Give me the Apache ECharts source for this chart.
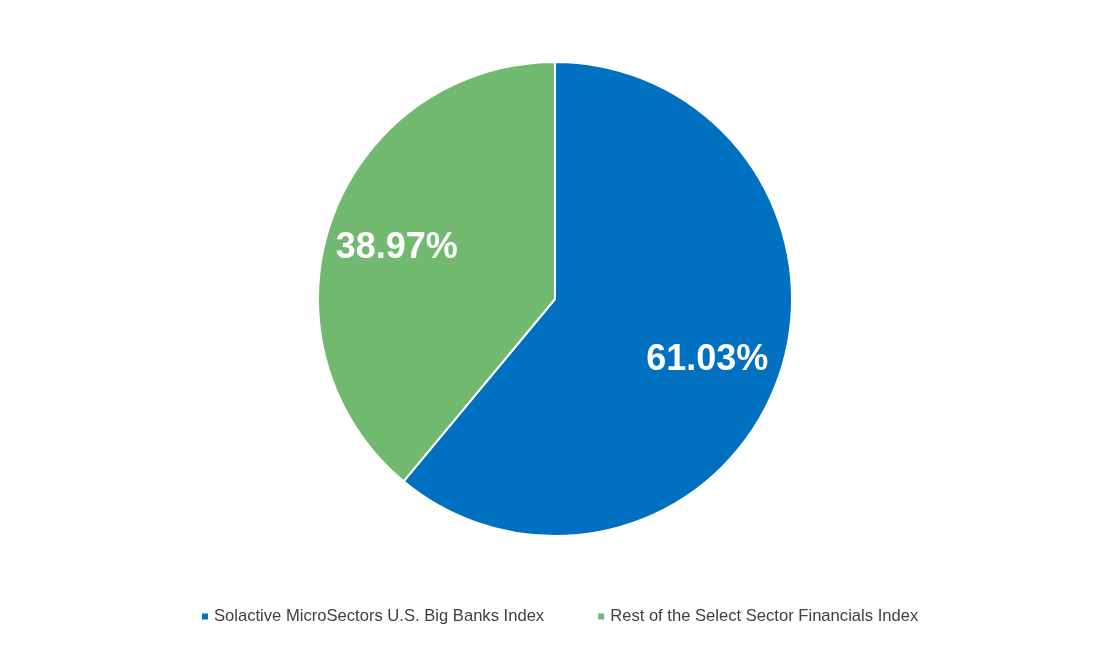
<html>
<head>
<meta charset="UTF-8">
<title>pie</title>
<script src="https://cdn.jsdelivr.net/npm/echarts@6/dist/echarts.min.js"></script>
</head>
<body style="margin:0;background:#fff">
<div id="chart" style="width:1110px;height:647px"></div>
<script>
var names = ['Solactive MicroSectors U.S. Big Banks Index', 'Rest of the Select Sector Financials Index'];
var values = [61.03, 38.97];
var colors = ['#0070c0', '#71b96f'];

var chart = echarts.init(document.getElementById('chart'));

var pieData = [];
var labelData = [];
for (var i = 0; i < names.length; i++) {
  pieData.push({name: names[i], value: values[i], itemStyle: {color: colors[i]}});
  labelData.push({name: names[i], value: values[i]});
}

var option = {
  animation: false,
  legend: {
    data: names,
    left: 195,
    top: 603,
    icon: 'rect',
    itemWidth: 8,
    itemHeight: 8,
    itemGap: 52,
    textStyle: {color: '#404040', fontSize: 16.6, fontFamily: 'Liberation Sans'}
  },
  series: [
    {
      type: 'pie',
      center: [555, 299],
      radius: [0, 237],
      startAngle: 90,
      clockwise: true,
      label: {show: false},
      labelLine: {show: false},
      itemStyle: {borderColor: '#fff', borderWidth: 2},
      emphasis: {disabled: true},
      data: pieData
    },
    {
      // invisible ring, only used to place the labels at ~2/3 radius
      type: 'pie',
      center: [555, 299],
      radius: [87, 237],
      startAngle: 90,
      clockwise: true,
      silent: true,
      legendHoverLink: false,
      itemStyle: {color: 'rgba(0,0,0,0)'},
      label: {
        show: true,
        position: 'inside',
        offset: [-3, 5],
        formatter: function (p) { return p.value.toFixed(2) + '%'; },
        color: '#fff',
        fontSize: 36,
        fontWeight: 'bold',
        fontFamily: 'Liberation Sans'
      },
      labelLine: {show: false},
      data: labelData
    }
  ]
};
chart.setOption(option);
</script>
</body>
</html>
